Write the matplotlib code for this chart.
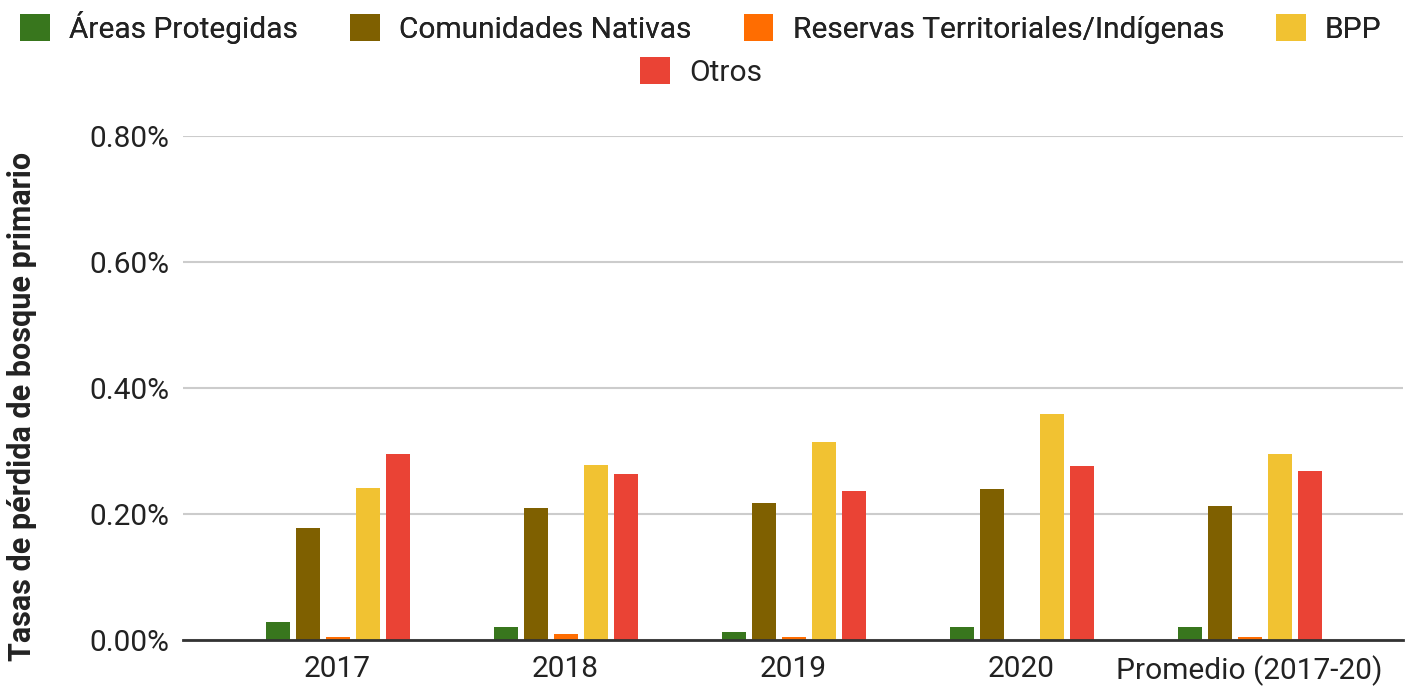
import matplotlib
matplotlib.use("Agg")
import matplotlib.pyplot as plt
import numpy as np
from matplotlib.patches import Patch
from matplotlib.ticker import FuncFormatter

plt.rcParams["font.family"] = ["Roboto", "DejaVu Sans"]

categories = ["2017", "2018", "2019", "2020", "Promedio (2017-20)"]
series_names = ["Áreas Protegidas", "Comunidades Nativas",
                "Reservas Territoriales/Indígenas", "BPP", "Otros"]

# primary forest loss rates, in percent
areas_protegidas = [0.028, 0.020, 0.012, 0.020, 0.020]
comunidades_nativas = [0.178, 0.209, 0.217, 0.240, 0.213]
reservas = [0.005, 0.009, 0.005, 0.0, 0.004]
bpp = [0.241, 0.277, 0.315, 0.358, 0.295]
otros = [0.296, 0.264, 0.236, 0.276, 0.268]

colors = ["#38761d", "#7f6000", "#ff6d01", "#f1c232", "#ea4335"]


def main() -> None:
    fig = plt.figure(figsize=(14.13, 6.88), dpi=100)
    ax = fig.add_axes([183 / 1413, 48 / 688, 1220 / 1413, 504 / 688])

    x = np.arange(len(categories))
    all_series = [areas_protegidas, comunidades_nativas, reservas, bpp, otros]
    step = 0.1316
    width = 0.105
    for i, (vals, col) in enumerate(zip(all_series, colors)):
        ax.bar(x + (i - 2) * step, vals, width=width, color=col, zorder=3)

    ax.set_xlim(-0.678, 4.673)
    ax.set_ylim(0, 0.8)
    ax.set_yticks([0, 0.2, 0.4, 0.6, 0.8])
    ax.yaxis.set_major_formatter(FuncFormatter(lambda v, _: f"{v:.2f}%"))
    ax.set_xticks(x)
    ax.set_xticklabels(categories)
    ax.tick_params(axis="both", length=0, labelsize=21.5, colors="#222222")
    ax.tick_params(axis="x", pad=11)
    ax.tick_params(axis="y", pad=10)
    ax.grid(axis="y", color="#cccccc", linewidth=1.5, zorder=0)
    for side in ["top", "right", "left"]:
        ax.spines[side].set_visible(False)
    ax.spines["bottom"].set_color("#333333")
    ax.spines["bottom"].set_linewidth(2)
    ax.spines["bottom"].set_zorder(4)

    fig.text(22 / 1413, 1 - 406 / 688, "Tasas de pérdida de bosque primario",
             rotation=90, ha="center", va="center", fontsize=22,
             fontweight="bold", color="#222222")

    handles = [Patch(facecolor=c, edgecolor="none") for c in colors]
    leg_kw = dict(frameon=False, fontsize=21.5, handlelength=1.0, handleheight=1.0,
                  handletextpad=0.64, columnspacing=1.74, labelcolor="#222222",
                  borderaxespad=0, borderpad=0)
    leg1 = fig.legend(handles[:4], series_names[:4], ncol=4, loc="center",
                      bbox_to_anchor=(701 / 1413, 1 - 27 / 688), **leg_kw)
    fig.legend(handles[4:], series_names[4:], ncol=1, loc="center",
               bbox_to_anchor=(701 / 1413, 1 - 72 / 688), **leg_kw)
    fig.add_artist(leg1)

    fig.savefig("out.png", dpi=100, facecolor="white")
    plt.close(fig)


if __name__ == "__main__":
    main()
